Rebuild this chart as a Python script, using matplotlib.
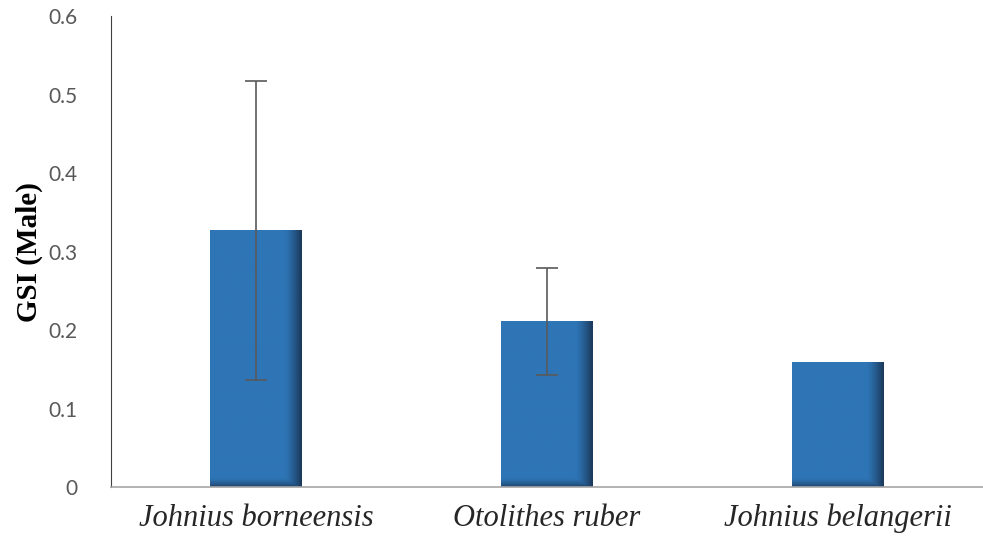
import numpy as np
import matplotlib.pyplot as plt
from matplotlib.colors import LinearSegmentedColormap

# data
species = ['Johnius borneensis', 'Otolithes ruber', 'Johnius belangerii']
gsi_male = [0.327, 0.211, 0.159]
gsi_err = [0.190, 0.068, 0.0]

fig = plt.figure(figsize=(9.83, 5.4), dpi=100)
ax = fig.add_axes([0.113, 0.098, 0.887, 0.872])

x = np.arange(len(species))
bars = ax.bar(x, gsi_male, width=0.316, color='#2E75B6', zorder=2)

# shading at right and bottom edge of each bar
cmap = LinearSegmentedColormap.from_list('shade', ['#2E75B6', '#1B3A5C'])
nx, ny = 60, 300
u = np.linspace(0, 1, nx)
v = np.linspace(0, 1, ny)
U, V = np.meshgrid(u, v)
shade = np.clip((U - 0.82) / 0.18, 0, 1) ** 1.3
for b in bars:
    x0, w, h = b.get_x(), b.get_width(), b.get_height()
    bottom_px = 0.012 / h  # bottom band fraction
    sb = np.clip((bottom_px - V) / bottom_px, 0, 1) ** 1.5 * 0.8
    img = np.maximum(shade, sb)
    im = ax.imshow(img, cmap=cmap, vmin=0, vmax=1, origin='lower',
                   extent=[x0, x0 + w, 0, h], aspect='auto', zorder=2.5)
    im.set_clip_path(b)

ax.errorbar(x[:2], gsi_male[:2], yerr=gsi_err[:2], fmt='none',
            ecolor='#595959', elinewidth=1.2, capsize=8, capthick=1.2, zorder=3)

ax.set_xlim(-0.5, 2.5)
ax.set_ylim(0, 0.6)
ax.set_yticks([0, 0.1, 0.2, 0.3, 0.4, 0.5, 0.6])
ax.set_yticklabels(['0', '0.1', '0.2', '0.3', '0.4', '0.5', '0.6'])
ax.set_xticks(x)
ax.set_xticklabels(species, fontfamily='Liberation Serif', fontstyle='italic',
                   fontsize=22, color='#262626')
ax.tick_params(axis='y', length=0, pad=24, labelsize=15, labelcolor='#595959')
ax.tick_params(axis='x', length=0, pad=12)
for lab in ax.get_yticklabels():
    lab.set_fontfamily('Lato')

ax.set_ylabel('GSI (Male)', fontfamily='Liberation Serif', fontweight='bold',
              fontsize=21, labelpad=4)

ax.spines['top'].set_visible(False)
ax.spines['right'].set_visible(False)
ax.spines['left'].set_color('#404040')
ax.spines['bottom'].set_color('#A6A6A6')
ax.spines['bottom'].set_linewidth(1.2)

plt.savefig('out.png', dpi=100)
